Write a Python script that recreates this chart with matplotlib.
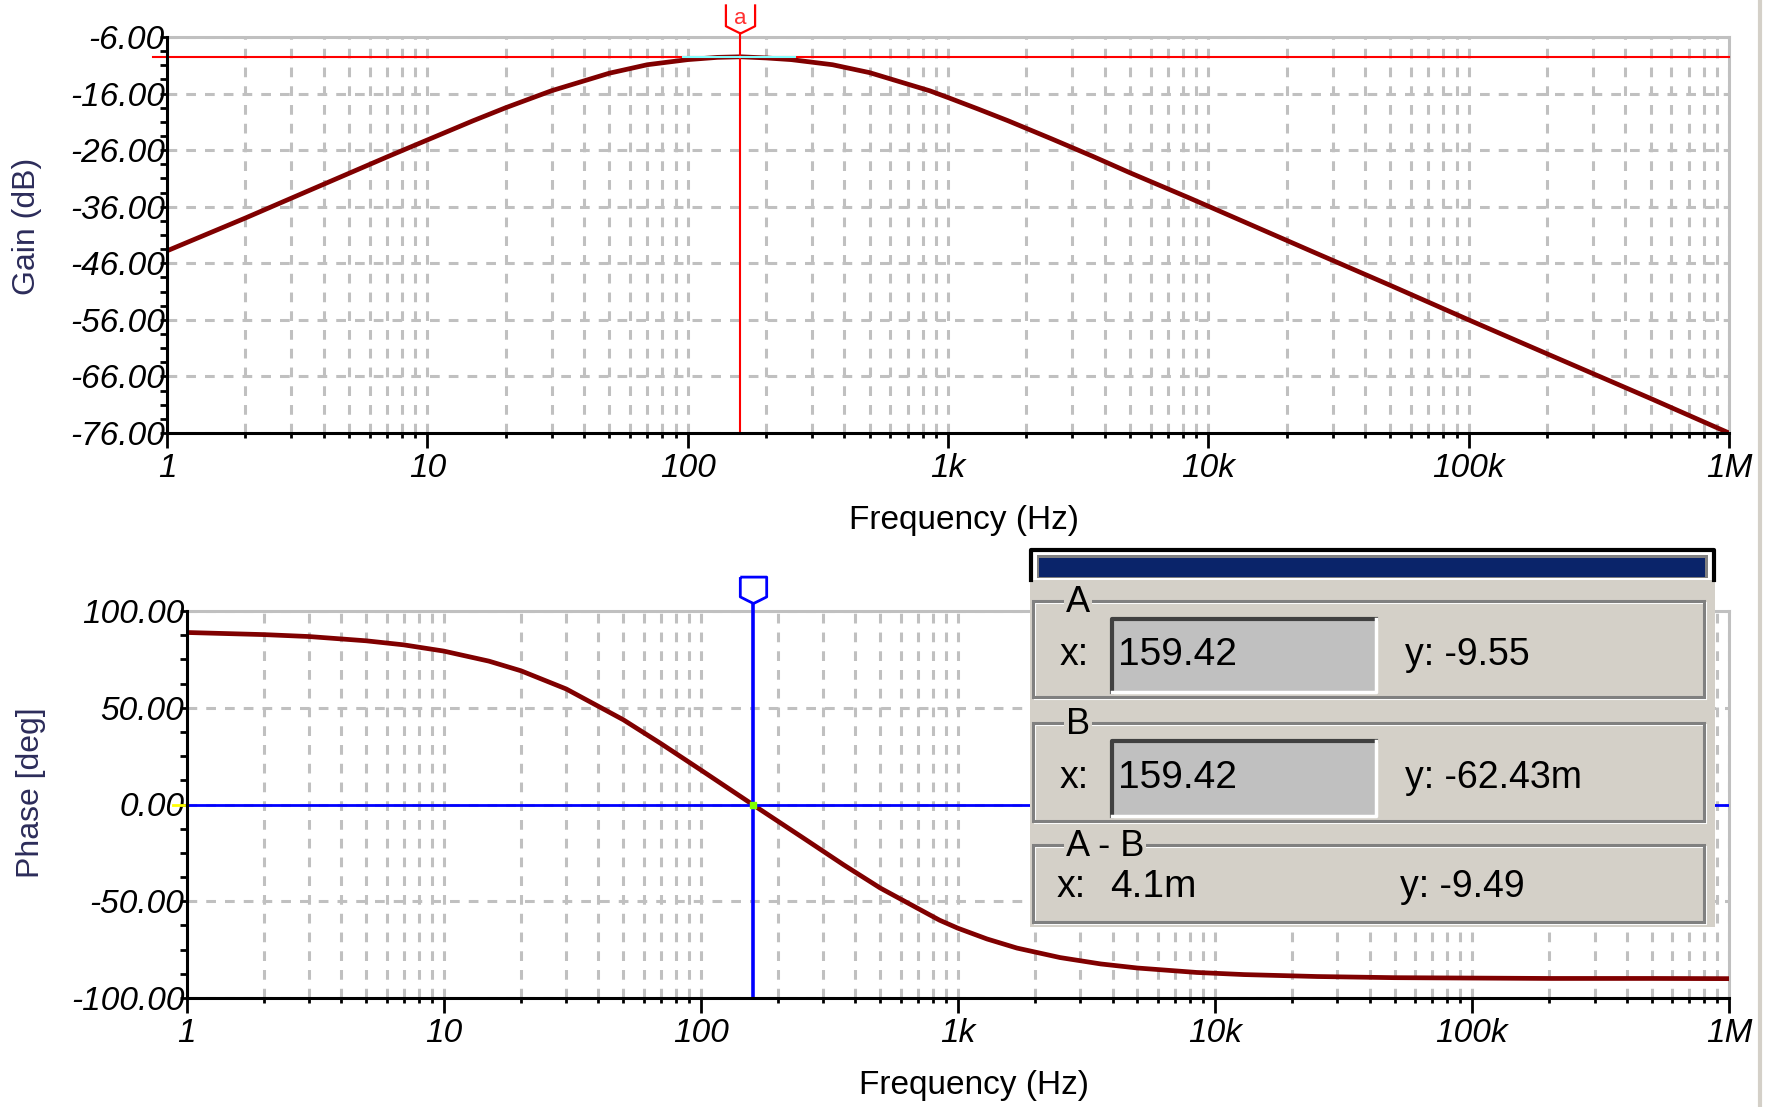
import numpy as np
import matplotlib
matplotlib.use('Agg')
import matplotlib.pyplot as plt
from matplotlib.patches import Rectangle
from matplotlib.lines import Line2D
from matplotlib.path import Path
from matplotlib.ticker import FixedLocator, LogLocator, NullFormatter
from matplotlib.transforms import blended_transform_factory, offset_copy

plt.rcParams['font.family'] = ['Liberation Sans', 'DejaVu Sans']
plt.rcParams['lines.scale_dashes'] = False

# ---- data ----
freq_hz = [1, 2, 3, 5, 7, 10, 15, 20, 30, 50, 70, 100, 130, 160, 200, 250, 360, 500,
           850, 1000, 1300, 1700, 2500, 3600, 5000, 8500, 13000, 25000, 50000,
           100000, 200000, 500000, 1000000]
gain_db = [-43.8, -38.0, -34.5, -30.1, -27.2, -24.2, -20.8, -18.5, -15.5, -12.4, -10.9,
           -10.0, -9.6, -9.5, -9.7, -10.0, -10.9, -12.3, -15.5, -16.7, -18.7, -20.8,
           -24.0, -27.1, -30.0, -34.5, -38.2, -43.9, -49.9, -56.0, -62.0, -69.9, -76.0]
phase_deg = [88.9, 87.8, 86.8, 84.6, 82.5, 79.3, 74.1, 69.1, 59.7, 43.8, 31.5, 17.9,
             7.8, -0.2, -8.7, -17.2, -31.2, -43.2, -59.8, -63.9, -69.5, -74.2, -79.1,
             -82.4, -84.5, -86.8, -87.9, -88.9, -89.5, -89.7, -89.9, -89.9, -90.0]

decades = [1, 10, 100, 1e3, 1e4, 1e5, 1e6]
decade_labels = ['1', '10', '100', '1k', '10k', '100k', '1M']
gain_ticks = [-76, -66, -56, -46, -36, -26, -16, -6]
phase_ticks = [-100, -50, 0, 50, 100]

cursor_x = 159.42
cursor_a_y = -9.55
cursor_b_y = -0.06243
cyan_span = [96, 258]

dialog_rows = [('A', '159.42', 'y: -9.55'),
               ('B', '159.42', 'y: -62.43m'),
               ('A - B', '4.1m', 'y: -9.49')]

# ---- figure, pixel based layout ----
W, H = 1772, 1107
fig = plt.figure(figsize=(W / 100, H / 100), dpi=100)


def box(l, t, r, b):
    return [l / W, 1 - b / H, (r - l) / W, (b - t) / H]


def rect_px(l, t, r, b, **kw):
    fig.add_artist(Rectangle((l / W, 1 - b / H), (r - l) / W, (b - t) / H,
                             transform=fig.transFigure, **kw))


def line_px(xs, ys, **kw):
    fig.add_artist(Line2D([x / W for x in xs], [1 - y / H for y in ys],
                          transform=fig.transFigure, **kw))


ax_gain = fig.add_axes(box(167, 37, 1729, 433))
ax_phase = fig.add_axes(box(186.5, 611, 1729, 998))

grid_kw = dict(color='#c0c0c0', lw=2.2, linestyle=(0, (7, 6.5)))


def style_axes(ax, yticks, minor_step, ylabel, ylab_xy, xlab_xy):
    ax.set_xscale('log')
    ax.set_xlim(1, 1e6)
    ax.set_ylim(yticks[0], yticks[-1])
    ax.set_xticks(decades, decade_labels, fontstyle='italic', fontsize=24)
    ax.xaxis.set_minor_locator(LogLocator(base=10, subs=range(2, 10), numticks=20))
    ax.xaxis.set_minor_formatter(NullFormatter())
    ax.set_yticks(yticks, ['%.2f' % v for v in yticks], fontstyle='italic', fontsize=24)
    ax.yaxis.set_minor_locator(FixedLocator(np.arange(yticks[0], yticks[-1], minor_step)))
    ax.grid(True, which='both', axis='x', **grid_kw)
    ax.grid(True, which='major', axis='y', **grid_kw)
    ax.set_axisbelow(True)
    for side in ['left', 'bottom']:
        ax.spines[side].set_color('black')
        ax.spines[side].set_linewidth(2.2)
        ax.spines[side].set_zorder(5)
    for side in ['top', 'right']:
        ax.spines[side].set_color('#c0c0c0')
        ax.spines[side].set_linewidth(2.2)
    ax.tick_params(axis='y', which='both', direction='out', length=5, width=2, pad=-3.5)
    ax.tick_params(axis='x', which='major', direction='out', length=10.8, width=2, pad=3.6)
    ax.tick_params(axis='x', which='minor', direction='out', length=3.6, width=2)
    ax.set_ylabel(ylabel, fontsize=23, color='#2c2c5a')
    ax.yaxis.set_label_coords(*ylab_xy)
    ax.set_xlabel('Frequency (Hz)', fontsize=24)
    ax.xaxis.set_label_coords(*xlab_xy)


style_axes(ax_gain, gain_ticks, 2.5, 'Gain (dB)', (-0.080, 0.523), (0.510, -0.182))
style_axes(ax_phase, phase_ticks, 12.5, 'Phase [deg]', (-0.091, 0.53), (0.5105, -0.186))

# curves
ax_gain.plot(freq_hz, gain_db, color='#800000', lw=3.4, zorder=3)
ax_phase.plot(freq_hz, phase_deg, color='#800000', lw=3.4, zorder=3)

# cursor tag shape (tip at origin)
tag = Path([(-1, 2), (-1, 0.5), (-0.45, 0.22), (0, 0), (0.45, 0.22), (1, 0.5), (1, 2)])
tag_closed = Path([(-1, 2), (-1, 0.5), (-0.45, 0.22), (0, 0), (0.45, 0.22), (1, 0.5),
                   (1, 2), (-1, 2)])

# cursor A (gain)
ax_gain.axhline(cursor_a_y, xmin=-14 / 1562, xmax=1, color='red', lw=1.5,
                clip_on=False, zorder=4)
ax_gain.plot(cyan_span, [cursor_a_y, cursor_a_y], color='#80ffff', lw=1.5, zorder=4.1)
ax_gain.axvline(cursor_x, 0, 1 + 4 / 396, color='red', lw=1.5, clip_on=False, zorder=4)
tr_a = blended_transform_factory(ax_gain.transData, ax_gain.transAxes)
ax_gain.plot([cursor_x], [1.0], transform=offset_copy(tr_a, fig=fig, y=2.9, units='points'),
             marker=tag, ms=42, mfc='none', mec='red', mew=1.6, clip_on=False, zorder=6)
ax_gain.text(cursor_x, 1.0, 'a', transform=offset_copy(tr_a, fig=fig, y=13, units='points'),
             ha='center', va='center', fontsize=16, color='#ff3030', clip_on=False)

# cursor B (phase)
ax_phase.axhline(cursor_b_y, color='#0000ff', lw=2.0, zorder=4)
ax_phase.axhline(cursor_b_y, xmin=-13 / 1542, xmax=-2 / 1542, color='#ffff00', lw=2,
                 clip_on=False, zorder=4)
ax_phase.axvline(cursor_x, 0, 1 + 8 / 387, color='#0000ff', lw=2.6, clip_on=False, zorder=4)
ax_phase.plot([cursor_x], [cursor_b_y], marker='s', ms=4, color='#80ff00', zorder=6)
tr_b = blended_transform_factory(ax_phase.transData, ax_phase.transAxes)
ax_phase.plot([cursor_x], [1.0], transform=offset_copy(tr_b, fig=fig, y=5.8, units='points'),
              marker=tag_closed, ms=38, mfc='white', mec='#0000ff', mew=2, clip_on=False,
              zorder=6)
ax_phase.text(cursor_x, 1.0, 'b', transform=offset_copy(tr_b, fig=fig, y=16.5, units='points'),
              ha='center', va='center', fontsize=15, color='#5050ff', clip_on=False)

# ---- cursor readout dialog ----
rect_px(1030, 578, 1715, 927, fc='#d4d0c8', ec='none')
rect_px(1030, 549, 1715, 580, fc='white', ec='none')
rect_px(1037, 555, 1708, 578, fc='#808080', ec='none')
rect_px(1039, 558, 1705, 577, fc='#0a246a', ec='none')
line_px([1031, 1031, 1714, 1714], [580, 550, 550, 580], color='black', lw=3)

frames = [(601, 697), (723, 821), (845, 922)]
label_x = [1078, 1078, 1105]
for (t, b), lx, (name, xval, yval) in zip(frames, label_x, dialog_rows):
    rect_px(1035, t + 2, 1706, b + 2, fc='none', ec='white', lw=1.5)
    rect_px(1033, t, 1704, b, fc='none', ec='#808080', lw=2.2)
    fig.text(lx / W, 1 - (t + 2) / H, name, ha='center', va='center', fontsize=26,
             bbox=dict(fc='#d4d0c8', ec='none', pad=1))
    if name != 'A - B':
        vt, vb = t + 17, b - 5
        rect_px(1111, vt, 1376, vb, fc='#c0c0c0', ec='none')
        line_px([1112, 1112, 1376], [vb, vt + 1, vt + 1], color='#404040', lw=3)
        line_px([1112, 1376, 1376], [vb, vb, vt + 1], color='white', lw=2.5)
        yc = (vt + vb) / 2
        fig.text(1060 / W, 1 - yc / H, 'x:', ha='left', va='center', fontsize=27)
        fig.text(1118 / W, 1 - yc / H, xval, ha='left', va='center', fontsize=28)
        fig.text(1405 / W, 1 - yc / H, yval, ha='left', va='center', fontsize=27)
    else:
        yc = 887
        fig.text(1057 / W, 1 - yc / H, 'x:', ha='left', va='center', fontsize=27)
        fig.text(1110 / W, 1 - yc / H, xval, ha='left', va='center', fontsize=28)
        fig.text(1400 / W, 1 - yc / H, yval, ha='left', va='center', fontsize=27)

# window border at the right
line_px([1760, 1760], [0, H], color='#d4d0c8', lw=3)

fig.savefig('out.png', dpi=100)
